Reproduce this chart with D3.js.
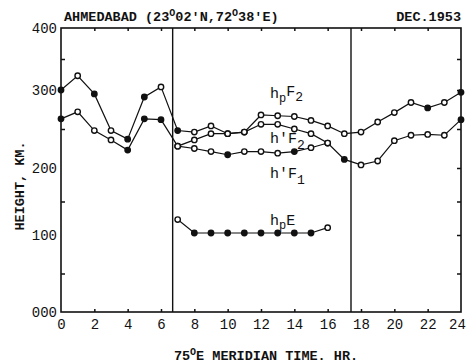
<!DOCTYPE html>
<html>
<head>
<meta charset="utf-8">
<script src="https://cdn.jsdelivr.net/npm/d3@7"></script>
<style>
  body { margin: 0; background: #fff; }
  svg text { font-family: "Liberation Mono", "DejaVu Sans Mono", monospace; fill: #111; }
</style>
</head>
<body>
<div id="chart"></div>
<script>
// values (height in km vs local hour)
const allHours = d3.range(0, 25);
const dayHours = d3.range(7, 17);
const hpF2 = [300, 323, 295, 248, 237, 291, 305, 248, 246, 254, 244, 246, 268, 267, 266, 261, 254, 244, 246, 259, 271, 284, 277, 284, 297];
const hF = [263, 272, 248, 236, 223, 263, 262, 228, 236, 244, 244, 246, 256, 256, 250, 244, 232, 211, 204, 209, 235, 242, 243, 242, 262];
const hF1 = [228, 225, 221, 217, 221, 221, 219, 221, 226, 232];
const hpE = [123, 103, 103, 103, 103, 103, 103, 103, 103, 111];
// hours where the marker is drawn solid
const hpF2Filled = [0, 2, 4, 5, 7, 10, 11, 22, 24];
const hFFilled = [0, 4, 5, 6, 16, 17, 24];
const hF1Filled = [10, 14];
const hpEFilled = [8, 9, 10, 11, 12, 13, 14, 15];
const sunLines = [6.7, 17.4];
const yTicks = [0, 100, 200, 300, 400];
const yTickLabels = ['000', '100', '200', '300', '400'];
const yMinor = [50, 150, 250, 350];
const xTicks = d3.range(0, 25, 2);

const width = 467, height = 364;
const x = d3.scaleLinear().domain([0, 24]).range([61, 461]);
// the scanned axis is not quite even, so map each labelled value
const y = d3.scaleLinear().domain(yTicks).range([312, 235, 168, 90, 28]);

const svg = d3.select('#chart').append('svg')
  .attr('width', width)
  .attr('height', height);

// frame
svg.append('rect')
  .attr('x', x(0)).attr('y', y(400))
  .attr('width', x(24) - x(0)).attr('height', y(0) - y(400))
  .attr('fill', 'none').attr('stroke', '#111').attr('stroke-width', 1.6);

// left labels
const left = svg.append('g')
  .attr('transform', `translate(${x(0)},0)`)
  .call(d3.axisLeft(y).tickValues(yTicks).tickSize(0).tickPadding(4)
    .tickFormat((d, i) => yTickLabels[i]));
left.select('.domain').remove();
left.selectAll('text').style('font-size', '14px').style('font-family', '"Liberation Mono", monospace');

// inner ticks on left and right
svg.append('g')
  .attr('transform', `translate(${x(0)},0)`)
  .call(d3.axisRight(y).tickValues(yMinor).tickSize(4).tickFormat(''))
  .call(g => g.select('.domain').remove());
svg.append('g')
  .attr('transform', `translate(${x(24)},0)`)
  .call(d3.axisLeft(y).tickValues(yMinor.concat([100, 200, 300])).tickSize(4).tickFormat(''))
  .call(g => g.select('.domain').remove());

// bottom axis
const bottom = svg.append('g')
  .attr('transform', `translate(0,${y(0)})`)
  .call(d3.axisBottom(x).tickValues(xTicks).tickSize(0).tickPadding(7));
bottom.select('.domain').remove();
bottom.selectAll('text').style('font-size', '14px').style('font-family', '"Liberation Mono", monospace');
bottom.selectAll('text').filter(d => d === 24).attr('dx', -4);
svg.append('g')
  .attr('transform', `translate(0,${y(0)})`)
  .call(d3.axisTop(x).tickValues(xTicks.slice(1, -1)).tickSize(3).tickFormat(''))
  .call(g => g.select('.domain').remove());
svg.append('g')
  .attr('transform', `translate(0,${y(400)})`)
  .call(d3.axisBottom(x).tickValues(xTicks.slice(1, -1)).tickSize(3).tickFormat(''))
  .call(g => g.select('.domain').remove());
svg.selectAll('.tick line').attr('stroke', '#111').attr('stroke-width', 1.5);

// sunrise / sunset lines
svg.selectAll('.sun').data(sunLines).join('line')
  .attr('x1', d => x(d)).attr('x2', d => x(d))
  .attr('y1', y(400)).attr('y2', y(0))
  .attr('stroke', '#111').attr('stroke-width', 1.4);

const line = d3.line().x(d => x(d.h)).y(d => y(d.v));
const series = [
  { hours: allHours, vals: hpF2, filled: hpF2Filled },
  { hours: allHours, vals: hF, filled: hFFilled },
  { hours: dayHours, vals: hF1, filled: hF1Filled },
  { hours: dayHours, vals: hpE, filled: hpEFilled }
];
series.forEach(s => {
  const pts = s.hours.map((h, i) => ({ h: h, v: s.vals[i], f: s.filled.includes(h) }));
  svg.append('path')
    .datum(pts)
    .attr('d', line)
    .attr('fill', 'none')
    .attr('stroke', '#111')
    .attr('stroke-width', 1.2);
  svg.append('g').selectAll('circle').data(pts).join('circle')
    .attr('cx', d => x(d.h))
    .attr('cy', d => y(d.v))
    .attr('r', 2.7)
    .attr('fill', d => d.f ? '#111' : '#fff')
    .attr('stroke', '#111')
    .attr('stroke-width', 1.4);
});

// title texts
const title = svg.append('text')
  .attr('x', 64).attr('y', 21)
  .style('font-size', '13.5px')
  .style('font-weight', 'bold');
title.append('tspan').text('AHMEDABAD (23');
title.append('tspan').attr('dy', -5).style('font-size', '10px').text('O');
title.append('tspan').attr('dy', 5).text("02'N,72");
title.append('tspan').attr('dy', -5).style('font-size', '10px').text('O');
title.append('tspan').attr('dy', 5).text("38'E)");

svg.append('text')
  .attr('x', 461).attr('y', 21)
  .attr('text-anchor', 'end')
  .style('font-size', '13.5px')
  .style('font-weight', 'bold')
  .text('DEC.1953');

svg.append('text')
  .attr('transform', 'translate(24,186) rotate(-90)')
  .attr('text-anchor', 'middle')
  .style('font-size', '13.5px')
  .style('font-weight', 'bold')
  .text('HEIGHT,  KM.');

const xt = svg.append('text')
  .attr('x', 266).attr('y', 360)
  .attr('text-anchor', 'middle')
  .style('font-size', '13.5px')
  .style('font-weight', 'bold');
xt.append('tspan').text('75');
xt.append('tspan').attr('dy', -5).style('font-size', '10px').text('O');
xt.append('tspan').attr('dy', 5).text('E MERIDIAN TIME. HR.');

// curve labels
function curveLabel(px, py, parts) {
  const t = svg.append('text').attr('x', px).attr('y', py).style('font-size', '15px');
  parts.forEach(p => {
    t.append('tspan').attr('dy', p.dy).style('font-size', p.size).text(p.t);
  });
}
curveLabel(270, 98, [
  { t: 'h', dy: 0, size: '15px' }, { t: 'p', dy: 4, size: '12px' },
  { t: 'F', dy: -6, size: '15px' }, { t: '2', dy: 5, size: '13px' }
]);
curveLabel(270, 143, [
  { t: "h'F", dy: 0, size: '15px' }, { t: '2', dy: 6, size: '13px' }
]);
curveLabel(270, 178, [
  { t: "h'F", dy: 0, size: '15px' }, { t: '1', dy: 6, size: '13px' }
]);
curveLabel(270, 225, [
  { t: 'h', dy: 0, size: '15px' }, { t: 'p', dy: 4, size: '12px' },
  { t: 'E', dy: -4, size: '15px' }
]);
</script>
</body>
</html>
